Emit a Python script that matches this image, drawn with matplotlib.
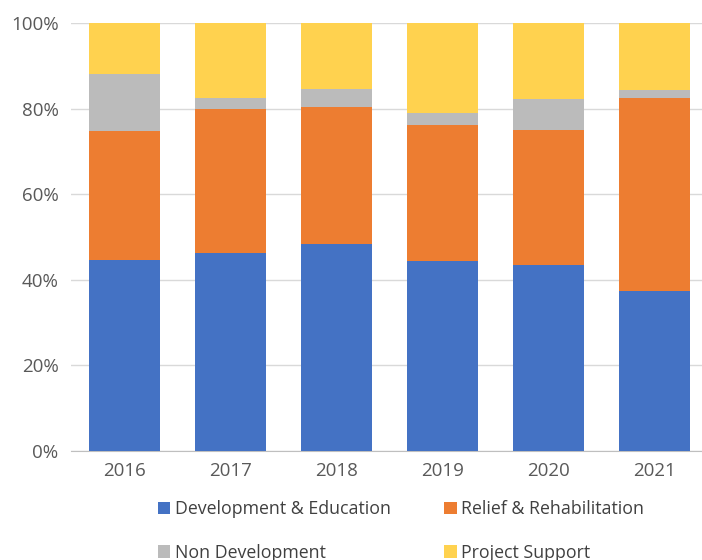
import matplotlib.pyplot as plt
import numpy as np

# Values (percent of total)
years = ['2016', '2017', '2018', '2019', '2020', '2021']
dev_edu = [44.6, 46.3, 48.4, 44.4, 43.4, 37.4]
relief = [30.2, 33.7, 31.9, 31.8, 31.6, 45.1]
non_dev = [13.3, 2.5, 4.3, 2.8, 7.2, 1.8]
project = [11.9, 17.5, 15.4, 21.0, 17.8, 15.7]

series = [
    ("Development & Education", dev_edu, '#4472C4'),
    ("Relief & Rehabilitation", relief, '#ED7D31'),
    ("Non Development", non_dev, '#BBBBBB'),
    ("Project Support", project, '#FFD24F'),
]

plt.rcParams['font.family'] = ['Open Sans', 'DejaVu Sans']

fig = plt.figure(figsize=(7.02, 5.6), dpi=100)
ax = fig.add_axes([71 / 702, 1 - 451 / 560, (708 - 71) / 702, (451 - 23) / 560])

x = np.arange(len(years))
bottom = np.zeros(len(years))
handles = []
for name, vals, color in series:
    vals = np.array(vals)
    b = ax.bar(x, vals, width=0.67, bottom=bottom, color=color, label=name, zorder=3)
    handles.append(b)
    bottom += vals

ax.set_xlim(-0.5, len(years) - 0.5)
ax.set_ylim(0, 100)
ax.set_yticks([0, 20, 40, 60, 80, 100])
ax.set_yticklabels([f'{v}%' for v in [0, 20, 40, 60, 80, 100]])
ax.set_xticks(x)
ax.set_xticklabels(years)
ax.tick_params(axis='both', length=0, colors='#595959', labelsize=13.5)
ax.tick_params(axis='x', pad=8)
ax.tick_params(axis='y', pad=9)
ax.grid(axis='y', color='#D9D9D9', linewidth=1, zorder=0)
for s in ['top', 'right', 'left']:
    ax.spines[s].set_visible(False)
ax.spines['bottom'].set_color('#BFBFBF')

# legend fills row-wise in the reference, matplotlib fills by column
order = [0, 2, 1, 3]
fig.legend(handles=[handles[i] for i in order], labels=[series[i][0] for i in order],
           loc='upper left', bbox_to_anchor=(142 / 702, 1 - 484 / 560),
           ncol=2, frameon=False, fontsize=12.8, handlelength=0.7, handleheight=0.7,
           handletextpad=0.25, columnspacing=3.0, labelspacing=1.45, labelcolor='#404040')

fig.savefig('out.png', dpi=100)
